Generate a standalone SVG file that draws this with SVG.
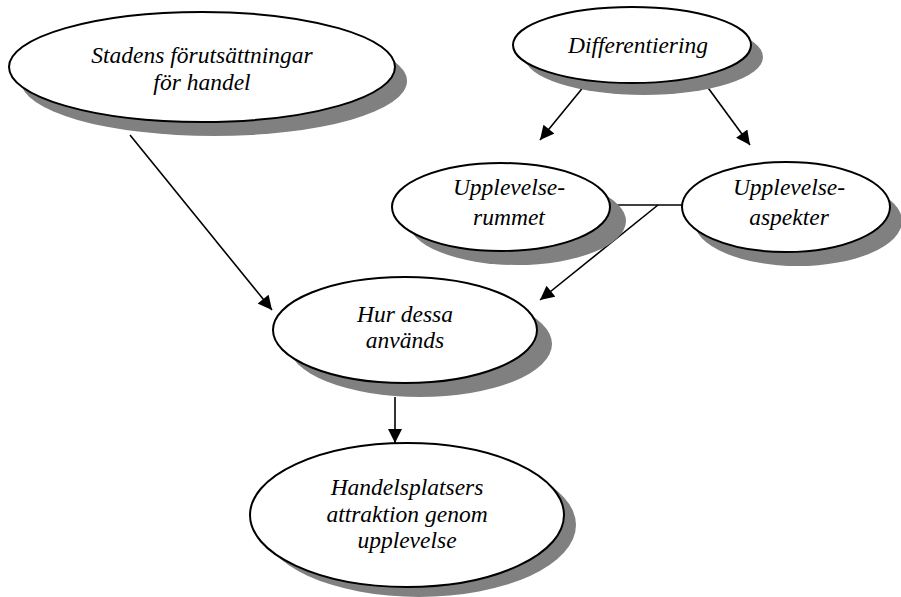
<svg xmlns="http://www.w3.org/2000/svg" width="901" height="597" viewBox="0 0 901 597">
<style>
.sh{fill:#808080;stroke:none}
.nd{fill:#fff;stroke:#000;stroke-width:2}
.t{font-size:23.5px;fill:#000;text-anchor:middle}
.c{stroke:#000;stroke-width:1.6;fill:none}
</style>
<defs>
<marker id="ah" viewBox="0 0 10 10" refX="10" refY="5" markerWidth="15" markerHeight="14" markerUnits="userSpaceOnUse" orient="auto"><path d="M0,0 L10,5 L0,10 Z" fill="#000"/></marker>
</defs>
<rect width="901" height="597" fill="#fff"/>
<g id="connectors">
<line class="c" x1="130" y1="135" x2="272" y2="310" marker-end="url(#ah)"/>
<line class="c" x1="585" y1="85" x2="540" y2="140" marker-end="url(#ah)"/>
<line class="c" x1="706" y1="85" x2="750" y2="145" marker-end="url(#ah)"/>
<line class="c" x1="610" y1="205" x2="682" y2="205"/>
<line class="c" x1="658" y1="205" x2="540" y2="300" marker-end="url(#ah)"/>
<line class="c" x1="395" y1="397" x2="395" y2="443" marker-end="url(#ah)"/>
</g>
<g id="n1">
<ellipse class="sh" cx="214" cy="81" rx="193" ry="55"/>
<ellipse class="nd" cx="202" cy="67" rx="193" ry="55"/>
<text class="t" font-family="Liberation Serif" font-style="italic" x="202" y="63">Stadens förutsättningar</text>
<text class="t" font-family="Liberation Serif" font-style="italic" x="202" y="90">för handel</text>
</g>
<g id="n2">
<ellipse class="sh" cx="644" cy="57" rx="119" ry="38"/>
<ellipse class="nd" cx="632" cy="45" rx="119" ry="38"/>
<text class="t" font-family="Liberation Serif" font-style="italic" x="638" y="53">Differentiering</text>
</g>
<g id="n3">
<ellipse class="sh" cx="517" cy="221" rx="109" ry="44"/>
<ellipse class="nd" cx="501" cy="207" rx="109" ry="44"/>
<text class="t" font-family="Liberation Serif" font-style="italic" x="509" y="195">Upplevelse-</text>
<text class="t" font-family="Liberation Serif" font-style="italic" x="509" y="225">rummet</text>
</g>
<g id="n4">
<ellipse class="sh" cx="798" cy="221" rx="104" ry="45"/>
<ellipse class="nd" cx="786" cy="207" rx="104" ry="45"/>
<text class="t" font-family="Liberation Serif" font-style="italic" x="789" y="195">Upplevelse-</text>
<text class="t" font-family="Liberation Serif" font-style="italic" x="789" y="225">aspekter</text>
</g>
<g id="n5">
<ellipse class="sh" cx="420" cy="344" rx="132" ry="53"/>
<ellipse class="nd" cx="405" cy="330" rx="132" ry="53"/>
<text class="t" font-family="Liberation Serif" font-style="italic" x="405" y="322">Hur dessa</text>
<text class="t" font-family="Liberation Serif" font-style="italic" x="405" y="348">används</text>
</g>
<g id="n6">
<ellipse class="sh" cx="419" cy="525" rx="157" ry="72"/>
<ellipse class="nd" cx="407" cy="515" rx="157" ry="72"/>
<text class="t" font-family="Liberation Serif" font-style="italic" x="407" y="495">Handelsplatsers</text>
<text class="t" font-family="Liberation Serif" font-style="italic" x="407" y="522">attraktion genom</text>
<text class="t" font-family="Liberation Serif" font-style="italic" x="407" y="548">upplevelse</text>
</g>
</svg>
